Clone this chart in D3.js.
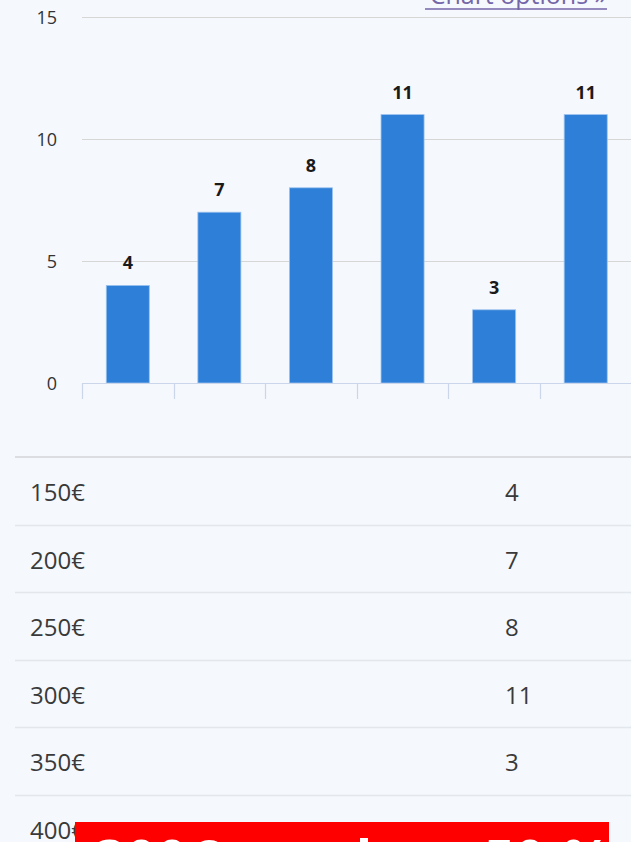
<!DOCTYPE html>
<html>
<head>
<meta charset="utf-8">
<script src="https://cdn.jsdelivr.net/npm/d3@7/dist/d3.min.js"></script>
<style>
  html, body { margin: 0; padding: 0; background: #f5f8fc; overflow: hidden; }
  svg { display: block; }
</style>
</head>
<body>
<svg id="chart" width="631" height="842"></svg>
<script>
// ---- data ----
const categories = ["150€", "200€", "250€", "300€", "350€", "400€"];
const values = [4, 7, 8, 11, 3, 11];
const yTicks = [0, 5, 10, 15];
const linkText = "Chart options »";
const bannerText = "300€ ou plus : 50 %";

// ---- layout ----
const W = 631, H = 842;
const plotLeft = 82, plotRight = 631.5, plotTop = 17, plotBottom = 383;
const svg = d3.select("#chart");

svg.append("rect").attr("width", W).attr("height", H).attr("fill", "#f5f8fc");

const x = d3.scaleBand().domain(categories).range([plotLeft, plotRight]).padding(0);
const y = d3.scaleLinear().domain([0, 15]).range([plotBottom, plotTop]);

// gridlines
svg.append("g").selectAll("line").data(yTicks.filter(d => d > 0)).join("line")
  .attr("x1", plotLeft).attr("x2", W + 10)
  .attr("y1", d => Math.round(y(d)) + 0.5).attr("y2", d => Math.round(y(d)) + 0.5)
  .attr("stroke", "#d6d6d6").attr("stroke-width", 1.2);

// y labels
svg.append("g").selectAll("text").data(yTicks).join("text")
  .attr("x", 57).attr("y", d => y(d) + 6.5)
  .attr("text-anchor", "end")
  .attr("font-family", "'Open Sans', sans-serif").attr("font-size", 18)
  .attr("fill", "#333")
  .text(d => d);

// bars
const barW = x.bandwidth() * 0.47;
svg.append("g").selectAll("rect").data(values).join("rect")
  .attr("x", (d, i) => x(categories[i]) + x.bandwidth() / 2 - barW / 2)
  .attr("y", d => y(d))
  .attr("width", barW)
  .attr("height", d => y(0) - y(d))
  .attr("fill", "#2e7fd8")
  .attr("stroke", "#9cc3ee").attr("stroke-width", 0.8);

// data labels
svg.append("g").selectAll("text").data(values).join("text")
  .attr("x", (d, i) => x(categories[i]) + x.bandwidth() / 2)
  .attr("y", d => y(d) - 16)
  .attr("text-anchor", "middle")
  .attr("font-family", "'Open Sans', sans-serif").attr("font-size", 18).attr("font-weight", "bold")
  .attr("fill", "#1a1a1a")
  .text(d => d);

// x axis line + ticks
svg.append("line")
  .attr("x1", plotLeft).attr("x2", W + 10)
  .attr("y1", plotBottom + 0.5).attr("y2", plotBottom + 0.5)
  .attr("stroke", "#ccd6eb").attr("stroke-width", 1.2);
const tickPos = categories.map(c => x(c)).concat([x.range()[1]]);
svg.append("g").selectAll("line").data(tickPos).join("line")
  .attr("x1", d => Math.round(d) + 0.5).attr("x2", d => Math.round(d) + 0.5)
  .attr("y1", plotBottom).attr("y2", plotBottom + 16)
  .attr("stroke", "#ccd6eb").attr("stroke-width", 1.2);

// chart options link
svg.append("text")
  .attr("x", 607).attr("y", 4)
  .attr("text-anchor", "end")
  .attr("font-family", "'Open Sans', sans-serif").attr("font-size", 25)
  .attr("fill", "#7466a8")
  .text(linkText);
svg.append("line")
  .attr("x1", 425).attr("x2", 607).attr("y1", 9).attr("y2", 9)
  .attr("stroke", "#7466a8").attr("stroke-width", 1.5);

// table
const rowTop = 457, rowH = 67.6;
svg.append("line")
  .attr("x1", 15).attr("x2", W + 10).attr("y1", rowTop).attr("y2", rowTop)
  .attr("stroke", "#dcdde0").attr("stroke-width", 2);
const rows = svg.append("g").selectAll("g").data(categories).join("g");
rows.append("text")
  .attr("x", 30).attr("y", (d, i) => rowTop + rowH * i + 44)
  .attr("font-family", "'Open Sans', sans-serif").attr("font-size", 24)
  .attr("fill", "#3a3a3a")
  .text(d => d);
rows.append("text")
  .attr("x", 505).attr("y", (d, i) => rowTop + rowH * i + 44)
  .attr("font-family", "'Open Sans', sans-serif").attr("font-size", 24)
  .attr("fill", "#3a3a3a")
  .text((d, i) => values[i]);
rows.append("line")
  .attr("x1", 15).attr("x2", W + 10)
  .attr("y1", (d, i) => Math.round(rowTop + rowH * (i + 1)) + 0.5)
  .attr("y2", (d, i) => Math.round(rowTop + rowH * (i + 1)) + 0.5)
  .attr("stroke", "#e2e7ee").attr("stroke-width", 1.5);

// red banner
svg.append("rect").attr("x", 75).attr("y", 822).attr("width", 534).attr("height", 40).attr("fill", "#ff0000");
svg.append("text")
  .attr("x", 95).attr("y", 879)
  .attr("font-family", "'Open Sans', sans-serif").attr("font-size", 54).attr("font-weight", "bold")
  .attr("word-spacing", 3)
  .attr("fill", "#ffffff")
  .text(bannerText);
</script>
</body>
</html>
